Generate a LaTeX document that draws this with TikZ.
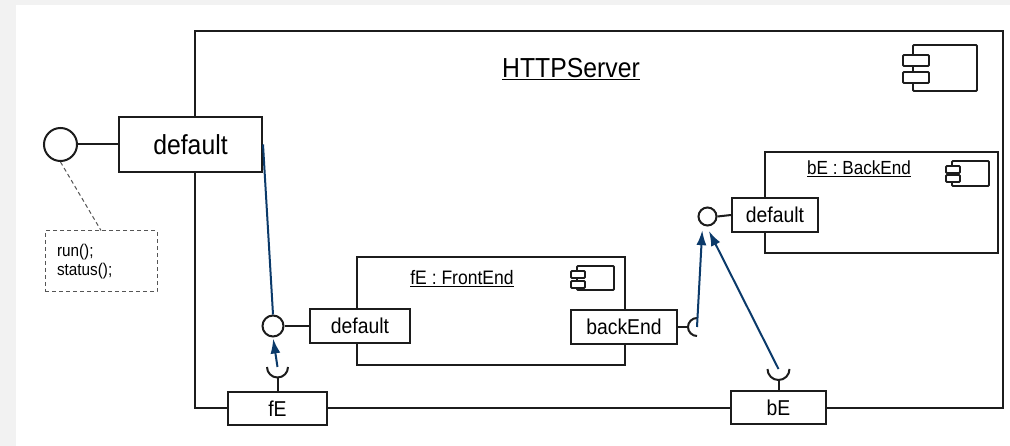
\documentclass[tikz,border=0pt]{standalone}
\usepackage{fontspec}
\setmainfont{Liberation Sans}[FakeStretch=0.9]
\usetikzlibrary{arrows.meta}
\definecolor{ln}{HTML}{1C1C1C}
\definecolor{bl}{HTML}{0B3A6A}
\definecolor{bggray}{HTML}{F2F2F2}
\definecolor{notegray}{HTML}{555555}
\begin{document}
\begin{tikzpicture}[x=1pt,y=-1pt,
  box/.style={draw=ln, line width=2pt},
  port/.style={draw=ln, line width=2pt, fill=white, rectangle, inner sep=0pt, font=\fontsize{21.5}{24}\selectfont},
  iface/.style={draw=ln, line width=2pt, fill=white, circle, inner sep=0pt},
  link/.style={draw=ln, line width=2pt},
  dep/.style={draw=bl, line width=2pt},
  deparrow/.style={dep, -{Latex[length=15pt,width=10pt]}},
  tab/.style={draw=ln, line width=1.8pt, fill=white, rounded corners=1pt},
  lbl/.style={inner sep=0pt, anchor=base},
  note/.style={draw=notegray, line width=1pt, dash pattern=on 4pt off 3pt, rectangle, inner xsep=12pt, align=left, font=\fontsize{17}{19}\selectfont}
]
\useasboundingbox (0,0) rectangle (1010,446);
\fill[bggray] (0,0) rectangle (1010,446);
\fill[white] (16,5) rectangle (1010,446);

% outer component
\draw[box] (195,31) rectangle (1003,408);
\node[lbl, font=\fontsize{27.5}{30}\selectfont] (title) at (571,78) {\underline{HTTPServer}};
\draw[tab] (913,45) rectangle (977,91);
\draw[tab] (903,55) rectangle (929,66);
\draw[tab] (903,72) rectangle (929,83);

% fE : FrontEnd
\draw[box] (357,257) rectangle (625,365);
\node[lbl, font=\fontsize{19.5}{22}\selectfont] (fetitle) at (462,285) {\underline{fE : FrontEnd}};
\draw[tab] (577,266) rectangle (614,290);
\draw[tab] (571,271) rectangle (585,278);
\draw[tab] (571,281) rectangle (585,288);

% bE : BackEnd
\draw[box] (765,152) rectangle (998,253);
\node[lbl, font=\fontsize{19}{22}\selectfont] (betitle) at (859,175) {\underline{bE : BackEnd}};
\draw[tab] (952,161) rectangle (989,186);
\draw[tab] (946,166) rectangle (960,173);
\draw[tab] (946,175) rectangle (960,182);

% ports
\node[port, minimum width=143pt, minimum height=55pt, font=\fontsize{27.5}{30}\selectfont] (pdef) at (190.5,144.5) {default};
\node[port, minimum width=100pt, minimum height=34pt] (pfd) at (360,326) {default};
\node[port, minimum width=106pt, minimum height=34pt] (pbk) at (624,327) {backEnd};
\node[port, minimum width=86pt, minimum height=34pt] (pbd) at (775,215) {default};
\node[port, minimum width=99pt, minimum height=33pt] (pfe) at (277.5,408.5) {fE};
\node[port, minimum width=95pt, minimum height=33pt] (pbe) at (778.5,407.5) {bE};

% provided interfaces
\node[iface, minimum size=33pt] (cl) at (60.5,144.5) {};
\node[iface, minimum size=21pt] (cf) at (273,326) {};
\node[iface, minimum size=18pt] (cb) at (707.5,216.5) {};
\draw[link] (cl.east) -- (pdef.west);
\draw[link] (cf.east) -- (pfd.west);
\draw[link] (cb.east) -- (pbd.west);

% note
\node[note, minimum width=112pt, minimum height=61pt, text width=88pt] (note) at (101,261.5) {run();\\status();};
\draw[draw=notegray, line width=1pt, dash pattern=on 4pt off 3pt] (cl.south) -- (note.north);

% required interfaces (sockets)
\coordinate (sbk) at (697,327);
\coordinate (sbkl) at (688,327);
\draw[link] (pbk.east) -- (sbkl);
\draw[link] (697,318) arc[start angle=90, end angle=270, radius=9pt];

\coordinate (sfe) at (277.5,367);
\coordinate (sfeb) at (277.5,377.5);
\draw[link] (267,367) arc[start angle=180, end angle=360, radius=10.5pt];
\draw[link] (sfeb) -- (pfe.north);

\coordinate (sbe) at (778.5,369);
\coordinate (sbeb) at (778.5,380);
\draw[link] (767.5,369) arc[start angle=180, end angle=360, radius=11pt];
\draw[link] (sbeb) -- (pbe.north);

% delegation / assembly connectors
\draw[dep] (pdef.east) -- (cf.north);
\draw[deparrow, shorten >=1pt] (sfe) -- (cf.south);
\draw[deparrow, shorten >=5pt] (sbk) -- (cb.240);
\draw[deparrow, shorten >=5pt] (sbe) -- (cb.265);
\end{tikzpicture}
\end{document}
